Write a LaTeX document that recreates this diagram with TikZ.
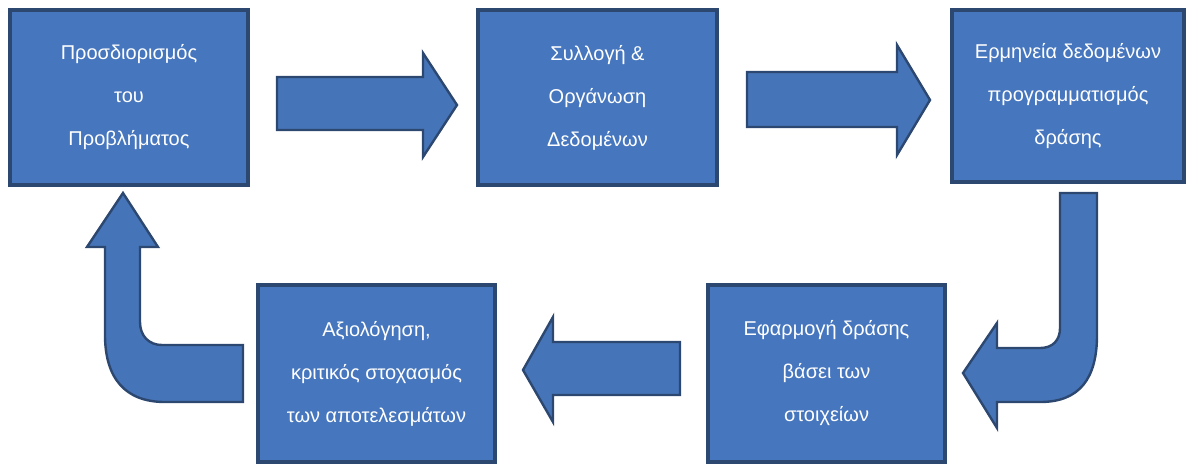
\documentclass[tikz,border=0pt]{standalone}
\usepackage{fontspec}
\setmainfont{Liberation Sans}
\definecolor{boxblue}{HTML}{4676BE}
\definecolor{boxedge}{HTML}{2C4770}
\definecolor{arrowblue}{HTML}{4674B8}
\tikzset{
  stepbox/.style={draw=boxedge, line width=1.6pt, fill=boxblue, text=white,
    align=center, font=\fontsize{10}{21.5}\selectfont, inner sep=0pt},
  blockarrow/.style={draw=boxedge, line width=1.2pt, fill=arrowblue, line join=miter}
}
\begin{document}
\begin{tikzpicture}[x=0.5pt,y=-0.5pt]
\useasboundingbox (0,0) rectangle (1188,463);
% boxes
\node[stepbox, minimum width=119pt, minimum height=87.5pt] (b1) at (129,97.5)
  {Προσδιορισμός\\του\\Προβλήματος};
\node[stepbox, minimum width=119.5pt, minimum height=87.5pt] (b2) at (597.5,97.5)
  {Συλλογή \&\\Οργάνωση\\Δεδομένων};
\node[stepbox, minimum width=116pt, minimum height=86pt] (b3) at (1068,96)
  {Ερμηνεία δεδομένων\\προγραμματισμός\\δράσης};
\node[stepbox, minimum width=118.5pt, minimum height=88.5pt] (b4) at (826.5,373.5)
  {Εφαρμογή δράσης\\βάσει των\\στοιχείων};
\node[stepbox, minimum width=118.5pt, minimum height=88.5pt] (b5) at (376.5,373.5)
  {Αξιολόγηση,\\κριτικός στοχασμός\\των αποτελεσμάτων};
% straight arrows
\draw[blockarrow] (277,77) -- (423,77) -- (423,53) -- (457,105) -- (423,157) -- (423,130) -- (277,130) -- cycle;
\draw[blockarrow] (747,72) -- (897,72) -- (897,45) -- (930,100) -- (897,155) -- (897,127) -- (747,127) -- cycle;
\draw[blockarrow] (680,342) -- (553,342) -- (553,317) -- (523,370) -- (553,422) -- (553,395) -- (680,395) -- cycle;
% bent arrow right (b3 -> b4)
\draw[blockarrow] (1060,193) -- (1097,193) -- (1097,335)
  .. controls (1097,378) and (1080,402) .. (1040,402) -- (997,402) -- (997,428)
  -- (963,373) -- (997,323) -- (997,348) -- (1040,348)
  .. controls (1053,348) and (1060,340) .. (1060,328) -- cycle;
% bent arrow left (b5 -> b1)
\draw[blockarrow] (243,345) -- (162,345)
  .. controls (149,345) and (140,336) .. (140,322) -- (140,247) -- (158,247)
  -- (123,193) -- (87,247) -- (105,247) -- (105,335)
  .. controls (105,378) and (125,402) .. (165,402) -- (243,402) -- cycle;
\end{tikzpicture}
\end{document}
